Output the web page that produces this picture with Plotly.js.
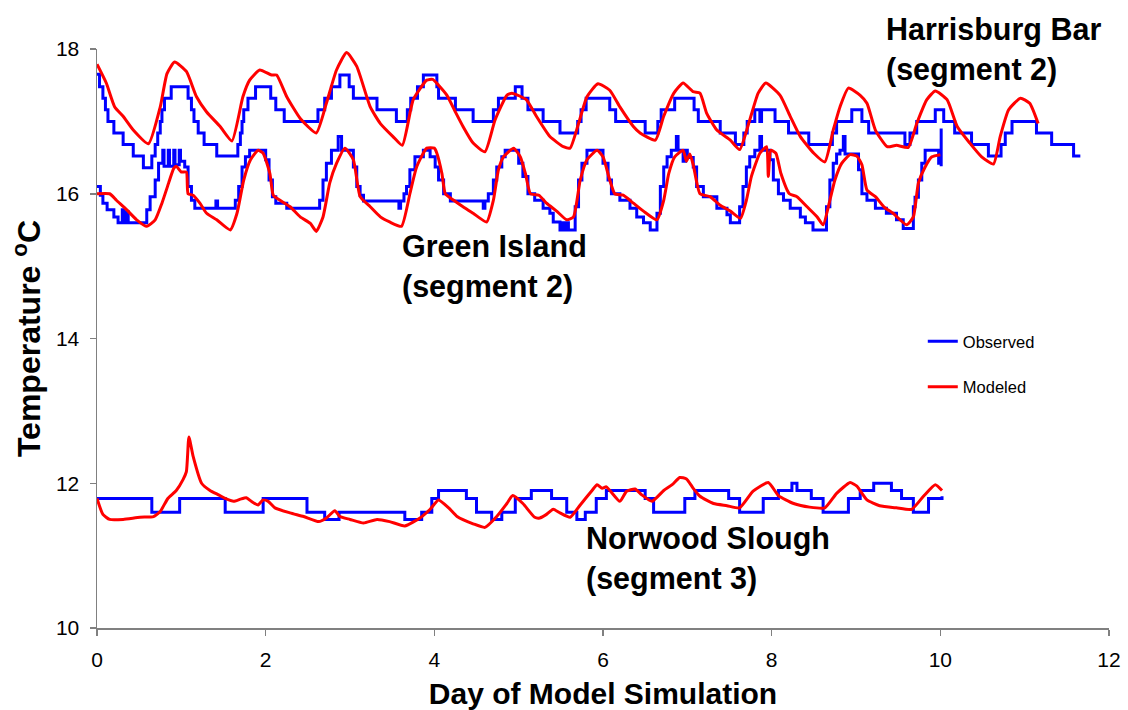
<!DOCTYPE html>
<html>
<head>
<meta charset="utf-8">
<script src="https://cdn.plot.ly/plotly-3.0.1.min.js"></script>
<style>
  html, body { margin: 0; padding: 0; background: #fff; }
  #chart { width: 1128px; height: 710px; }
</style>
</head>
<body>
<div id="chart"></div>
<script>
// Harrisburg Bar (segment 2) - observed, logger steps (value holds until next day)
const hbObsDay = [0,0.03,0.07,0.10,0.13,0.20,0.31,0.43,0.55,0.65,
  0.69,0.72,0.75,0.77,0.80,0.88,1.08,1.12,1.15,1.20,
  1.27,1.42,1.67,1.70,1.72,1.74,1.79,1.88,2.06,2.12,
  2.22,2.62,2.70,2.78,2.88,2.99,3.04,3.32,3.55,3.68,
  3.72,3.80,3.87,4.03,4.05,4.25,4.46,4.70,4.76,4.96,
  5.04,5.11,5.29,5.49,5.70,5.74,5.80,6.08,6.15,6.50,
  6.65,6.69,6.85,7.08,7.13,7.39,7.57,7.67,7.71,7.80,
  7.86,7.88,8.04,8.20,8.44,8.72,8.77,8.95,9.07,9.15,
  9.58,9.64,9.72,9.94,10.04,10.17,10.37,10.57,10.72,10.77,
  10.85,11.14,11.32,11.58,11.66];
const hbObsTemp = [17.65,17.48,17.32,17.16,17.0,16.84,16.68,16.52,16.36,16.52,
  16.68,16.84,17.0,17.16,17.32,17.48,17.32,17.16,17.0,16.84,
  16.68,16.52,16.68,16.84,17.0,17.16,17.32,17.48,17.32,17.16,
  17.0,17.16,17.32,17.48,17.64,17.48,17.32,17.16,17.0,17.16,
  17.32,17.48,17.64,17.48,17.32,17.16,17.0,17.16,17.32,17.48,
  17.32,17.16,17.0,16.84,17.0,17.16,17.32,17.16,17.0,16.84,
  17.0,17.16,17.32,17.16,17.0,16.84,16.68,16.84,17.0,17.16,
  17.0,17.16,17.0,16.84,16.68,16.84,17.0,17.16,17.0,16.84,
  16.68,16.84,17.0,17.16,17.0,16.84,16.68,16.52,16.68,16.84,
  17.0,16.84,16.68,16.52,16.52];

// Harrisburg Bar (segment 2) - modeled
const hbModDay = [0,0.11,0.21,0.31,0.43,0.61,0.75,0.83,0.92,1.06,
  1.18,1.30,1.46,1.60,1.73,1.81,1.93,2.07,2.13,2.25,
  2.41,2.60,2.72,2.84,2.96,3.08,3.24,3.36,3.51,3.62,
  3.75,3.91,3.98,4.05,4.15,4.25,4.34,4.46,4.60,4.72,
  4.86,4.92,5.09,5.21,5.37,5.53,5.61,5.71,5.81,5.94,
  6.08,6.20,6.36,6.44,6.62,6.72,6.84,6.95,7.07,7.15,
  7.23,7.35,7.51,7.62,7.74,7.84,7.93,8.10,8.22,8.34,
  8.50,8.63,8.73,8.81,8.91,9.05,9.13,9.23,9.37,9.48,
  9.62,9.72,9.84,9.94,10.08,10.20,10.35,10.49,10.63,10.71,
  10.81,10.95,11.06,11.16];
const hbModTemp = [17.79,17.53,17.20,17.07,16.88,16.69,17.20,17.66,17.82,17.69,
  17.34,17.13,16.93,16.73,17.34,17.57,17.71,17.64,17.64,17.34,
  17.04,16.84,17.25,17.71,17.95,17.76,17.20,16.97,16.79,16.67,
  17.30,17.57,17.58,17.50,17.36,17.13,16.93,16.70,16.58,17.02,
  17.36,17.39,17.30,17.07,16.79,16.65,16.63,16.97,17.34,17.52,
  17.43,17.20,16.93,16.84,16.74,17.07,17.39,17.53,17.41,17.39,
  17.11,16.88,16.74,16.61,17.02,17.39,17.53,17.36,17.07,16.79,
  16.56,16.44,16.88,17.20,17.46,17.36,17.25,16.88,16.65,16.67,
  16.64,16.97,17.30,17.42,17.30,16.93,16.70,16.51,16.41,16.79,
  17.16,17.32,17.25,16.97];

// Green Island (segment 2) - observed, one row per daily cycle
const giObsDay = [0,0.04,0.07,0.12,0.20,0.25,0.30,0.32,0.35,0.37,
  0.59,0.63,0.69,0.73,0.78,0.795,0.845,0.86,0.91,0.925,0.975,0.99,1.04,1.08,1.12,1.16,
  1.41,1.43,1.64,1.68,1.72,1.76,1.81,2.00,2.04,2.08,2.12,2.25,
  2.64,2.68,2.72,2.78,2.86,2.90,3.04,3.08,3.12,3.16,3.58,3.60,
  3.64,3.67,3.71,3.77,3.87,3.95,4.01,4.05,4.11,4.19,4.58,4.60,
  4.64,4.70,4.74,4.80,4.84,5.00,5.05,5.11,5.19,5.29,5.37,5.41,5.49,5.52,5.54,5.57,5.59,
  5.67,5.71,5.75,5.81,6.00,6.06,6.10,6.20,6.32,6.40,6.48,6.56,
  6.64,6.68,6.72,6.76,6.81,6.87,6.89,6.95,6.98,7.00,7.07,7.11,7.19,7.35,7.47,7.51,
  7.62,7.66,7.70,7.74,7.80,7.86,7.88,7.98,8.02,8.08,8.14,8.22,8.34,8.40,8.49,
  8.65,8.69,8.73,8.77,8.81,8.85,8.87,9.03,9.07,9.13,9.23,9.36,9.48,9.56,
  9.68,9.70,9.74,9.78,9.82,9.98,10.01,10.01];
const giObsTemp = [16.10,15.98,15.87,15.78,15.68,15.60,15.78,15.60,15.75,15.60,
  15.78,15.96,16.19,16.42,16.60,16.38,16.60,16.38,16.60,16.40,16.60,16.45,16.37,16.10,15.91,15.80,
  15.90,15.80,15.91,16.10,16.37,16.51,16.60,16.47,16.19,15.96,15.87,15.80,
  15.91,16.19,16.42,16.60,16.79,16.60,16.37,16.10,15.98,15.90,15.80,15.90,
  16.00,16.10,16.33,16.51,16.60,16.51,16.37,16.19,16.00,15.90,15.80,15.90,
  16.00,16.19,16.37,16.51,16.60,16.42,16.24,16.00,15.91,15.80,15.73,15.61,15.50,15.60,15.50,15.60,15.50,
  15.82,16.19,16.42,16.60,16.42,16.19,16.00,15.91,15.80,15.68,15.60,15.50,
  15.73,16.10,16.37,16.51,16.60,16.79,16.60,16.45,16.60,16.50,16.37,16.10,15.96,15.80,15.71,15.60,
  15.82,16.10,16.37,16.51,16.60,16.79,16.60,16.47,16.19,16.00,15.91,15.80,15.68,15.60,15.50,
  15.82,16.19,16.42,16.55,16.60,16.79,16.55,16.33,16.00,15.91,15.80,15.73,15.64,15.52,
  15.82,15.95,16.19,16.42,16.60,16.42,16.90,16.38];

// Green Island (segment 2) - modeled
const giModDay = [0,0.15,0.23,0.35,0.47,0.59,0.69,0.77,0.85,0.91,
  0.94,1.00,1.06,1.08,1.14,1.22,1.30,1.42,1.58,1.66,
  1.74,1.82,1.91,1.97,2.05,2.09,2.17,2.29,2.41,2.53,
  2.60,2.68,2.76,2.84,2.94,3.04,3.12,3.24,3.36,3.47,
  3.61,3.71,3.79,3.91,4.00,4.03,4.09,4.13,4.23,4.34,
  4.46,4.62,4.70,4.76,4.82,4.94,5.02,5.08,5.14,5.24,
  5.33,5.45,5.57,5.65,5.73,5.81,5.93,6.00,6.08,6.14,
  6.24,6.36,6.48,6.64,6.72,6.78,6.85,6.95,6.99,7.03,
  7.07,7.15,7.27,7.39,7.51,7.63,7.70,7.76,7.86,7.94,
  7.96,7.99,8.05,8.11,8.21,8.30,8.42,8.54,8.61,8.69,
  8.75,8.83,8.93,9.01,9.07,9.13,9.23,9.33,9.44,9.60,
  9.68,9.74,9.82,9.90,10.00];
const giModTemp = [16.00,16.00,15.91,15.78,15.64,15.55,15.64,15.87,16.15,16.35,
  16.38,16.30,16.30,16.00,15.98,15.87,15.73,15.64,15.50,15.73,
  16.19,16.47,16.60,16.56,16.28,15.98,15.91,15.82,15.68,15.59,
  15.48,15.68,16.15,16.42,16.63,16.47,15.96,15.82,15.68,15.61,
  15.55,16.00,16.37,16.63,16.63,16.56,16.28,16.00,15.91,15.82,
  15.73,15.61,15.91,16.33,16.51,16.63,16.51,16.28,16.00,15.98,
  15.87,15.76,15.64,15.68,16.19,16.47,16.60,16.51,16.19,16.00,
  15.98,15.87,15.76,15.64,15.91,16.28,16.51,16.60,16.45,16.55,
  16.40,16.00,15.96,15.84,15.76,15.66,15.91,16.24,16.56,16.65,
  16.24,16.60,16.56,16.28,16.00,15.96,15.82,15.68,15.57,15.91,
  16.19,16.42,16.54,16.52,16.40,16.05,15.96,15.82,15.73,15.57,
  15.68,16.15,16.37,16.51,16.54];

// Norwood Slough (segment 3) - observed
const nsObsDay = [0,0.65,0.98,1.52,1.97,2.49,2.70,2.87,3.65,3.85,
  3.97,4.05,4.38,4.50,4.68,4.80,4.96,5.15,5.39,5.57,
  5.69,5.79,5.92,6.04,6.50,6.60,6.97,7.09,7.49,7.62,
  7.90,8.08,8.24,8.30,8.47,8.61,8.91,9.05,9.21,9.42,
  9.54,9.68,9.86,10.02];
const nsObsTemp = [11.79,11.60,11.79,11.60,11.79,11.60,11.50,11.60,11.50,11.60,
  11.79,11.90,11.79,11.60,11.50,11.60,11.79,11.90,11.79,11.60,
  11.50,11.60,11.79,11.90,11.79,11.60,11.79,11.90,11.79,11.60,
  11.79,11.90,12.00,11.90,11.79,11.60,11.79,11.90,12.00,11.90,
  11.79,11.60,11.79,11.82];

// Norwood Slough (segment 3) - modeled
const nsModDay = [0,0.07,0.15,0.31,0.51,0.67,0.75,0.84,0.94,1.02,
  1.06,1.09,1.14,1.24,1.34,1.44,1.52,1.62,1.70,1.77,
  1.83,1.91,1.97,2.03,2.11,2.29,2.45,2.63,2.72,2.82,
  2.88,3.00,3.16,3.32,3.47,3.65,3.83,3.95,4.05,4.17,
  4.27,4.46,4.60,4.74,4.86,4.93,5.05,5.19,5.25,5.33,
  5.41,5.49,5.61,5.73,5.87,5.93,5.99,6.04,6.20,6.28,
  6.38,6.46,6.58,6.72,6.82,6.91,6.99,7.07,7.15,7.31,
  7.47,7.62,7.78,7.96,8.08,8.26,8.45,8.63,8.77,8.93,
  9.01,9.13,9.28,9.48,9.66,9.80,9.94,10.02];
const nsModTemp = [11.79,11.57,11.50,11.50,11.53,11.54,11.61,11.79,11.90,12.05,
  12.16,12.64,12.37,12.00,11.90,11.84,11.79,11.75,11.78,11.80,
  11.75,11.70,11.77,11.75,11.66,11.59,11.54,11.47,11.52,11.62,
  11.54,11.50,11.45,11.50,11.47,11.41,11.52,11.64,11.77,11.66,
  11.54,11.44,11.39,11.54,11.72,11.83,11.72,11.53,11.52,11.57,
  11.64,11.59,11.53,11.70,11.90,11.98,11.93,11.95,11.75,11.89,
  11.92,11.84,11.75,11.90,11.98,12.08,12.06,11.93,11.82,11.72,
  11.69,11.66,11.89,12.01,11.83,11.72,11.67,11.66,11.86,12.01,
  11.96,11.77,11.69,11.66,11.64,11.82,11.98,11.90];

const xTicks = [0, 2, 4, 6, 8, 10, 12];
const yTicks = [10, 12, 14, 16, 18];

const BLUE = '#0000ff';
const RED = '#ff0000';
const FONT = 'Arial, "Liberation Sans", sans-serif';

function obs(x, y, show) {
  return { x: x, y: y, type: 'scatter', mode: 'lines', name: 'Observed',
    legendgroup: 'obs', showlegend: show,
    line: { color: BLUE, width: 3, shape: 'hv' }, hoverinfo: 'x+y' };
}
function mod(x, y, show) {
  return { x: x, y: y, type: 'scatter', mode: 'lines', name: 'Modeled',
    legendgroup: 'mod', showlegend: show,
    line: { color: RED, width: 3, shape: 'spline', smoothing: 0.5 }, hoverinfo: 'x+y' };
}

const traces = [
  obs(hbObsDay, hbObsTemp, true),
  obs(giObsDay, giObsTemp, false),
  obs(nsObsDay, nsObsTemp, false),
  mod(hbModDay, hbModTemp, true),
  mod(giModDay, giModTemp, false),
  mod(nsModDay, nsModTemp, false)
];

const labelFont = { family: FONT, size: 30.5, color: '#000' };

const layout = {
  width: 1128, height: 710,
  margin: { l: 97, r: 19, t: 49, b: 82, pad: 0 },
  paper_bgcolor: '#fff', plot_bgcolor: '#fff',
  font: { family: FONT, color: '#000' },
  showlegend: true,
  legend: {
    x: 0.816, y: 0.525, xanchor: 'left', yanchor: 'top',
    font: { family: FONT, size: 16.5, color: '#000' },
    bgcolor: 'rgba(0,0,0,0)', itemwidth: 30, tracegroupgap: 21,
    traceorder: 'grouped'
  },
  xaxis: {
    range: [0, 12], tickvals: xTicks, ticktext: xTicks.map(String),
    showgrid: false, zeroline: false,
    showline: true, linecolor: '#808080', linewidth: 1.5,
    ticks: 'outside', ticklen: 6, tickcolor: '#808080', tickwidth: 1.5,
    ticklabelstandoff: 6,
    tickfont: { family: FONT, size: 21, color: '#000' },
    title: { text: '<b>Day of Model Simulation</b>', font: { family: FONT, size: 30, color: '#000' }, standoff: 14 }
  },
  yaxis: {
    range: [10, 18], tickvals: yTicks, ticktext: yTicks.map(String),
    showgrid: false, zeroline: false,
    showline: true, linecolor: '#808080', linewidth: 1.5,
    ticks: 'outside', ticklen: 6, tickcolor: '#808080', tickwidth: 1.5,
    ticklabelstandoff: 6,
    tickfont: { family: FONT, size: 21, color: '#000' },
    title: { text: '<b>Temperature <sup>o</sup>C</b>', font: { family: FONT, size: 32, color: '#000' }, standoff: 5 }
  },
  annotations: [
    { x: 9.336, y: 18.0, xref: 'x', yref: 'y', xanchor: 'left', yanchor: 'middle', align: 'left',
      text: '<b>Harrisburg Bar<br>(segment 2)</b>', showarrow: false, font: labelFont },
    { x: 3.595, y: 15.0, xref: 'x', yref: 'y', xanchor: 'left', yanchor: 'middle', align: 'left',
      text: '<b>Green Island<br>(segment 2)</b>', showarrow: false, font: labelFont },
    { x: 5.775, y: 10.96, xref: 'x', yref: 'y', xanchor: 'left', yanchor: 'middle', align: 'left',
      text: '<b>Norwood Slough<br>(segment 3)</b>', showarrow: false, font: labelFont }
  ]
};

Plotly.newPlot('chart', traces, layout, { displayModeBar: false, staticPlot: true });
</script>
</body>
</html>
